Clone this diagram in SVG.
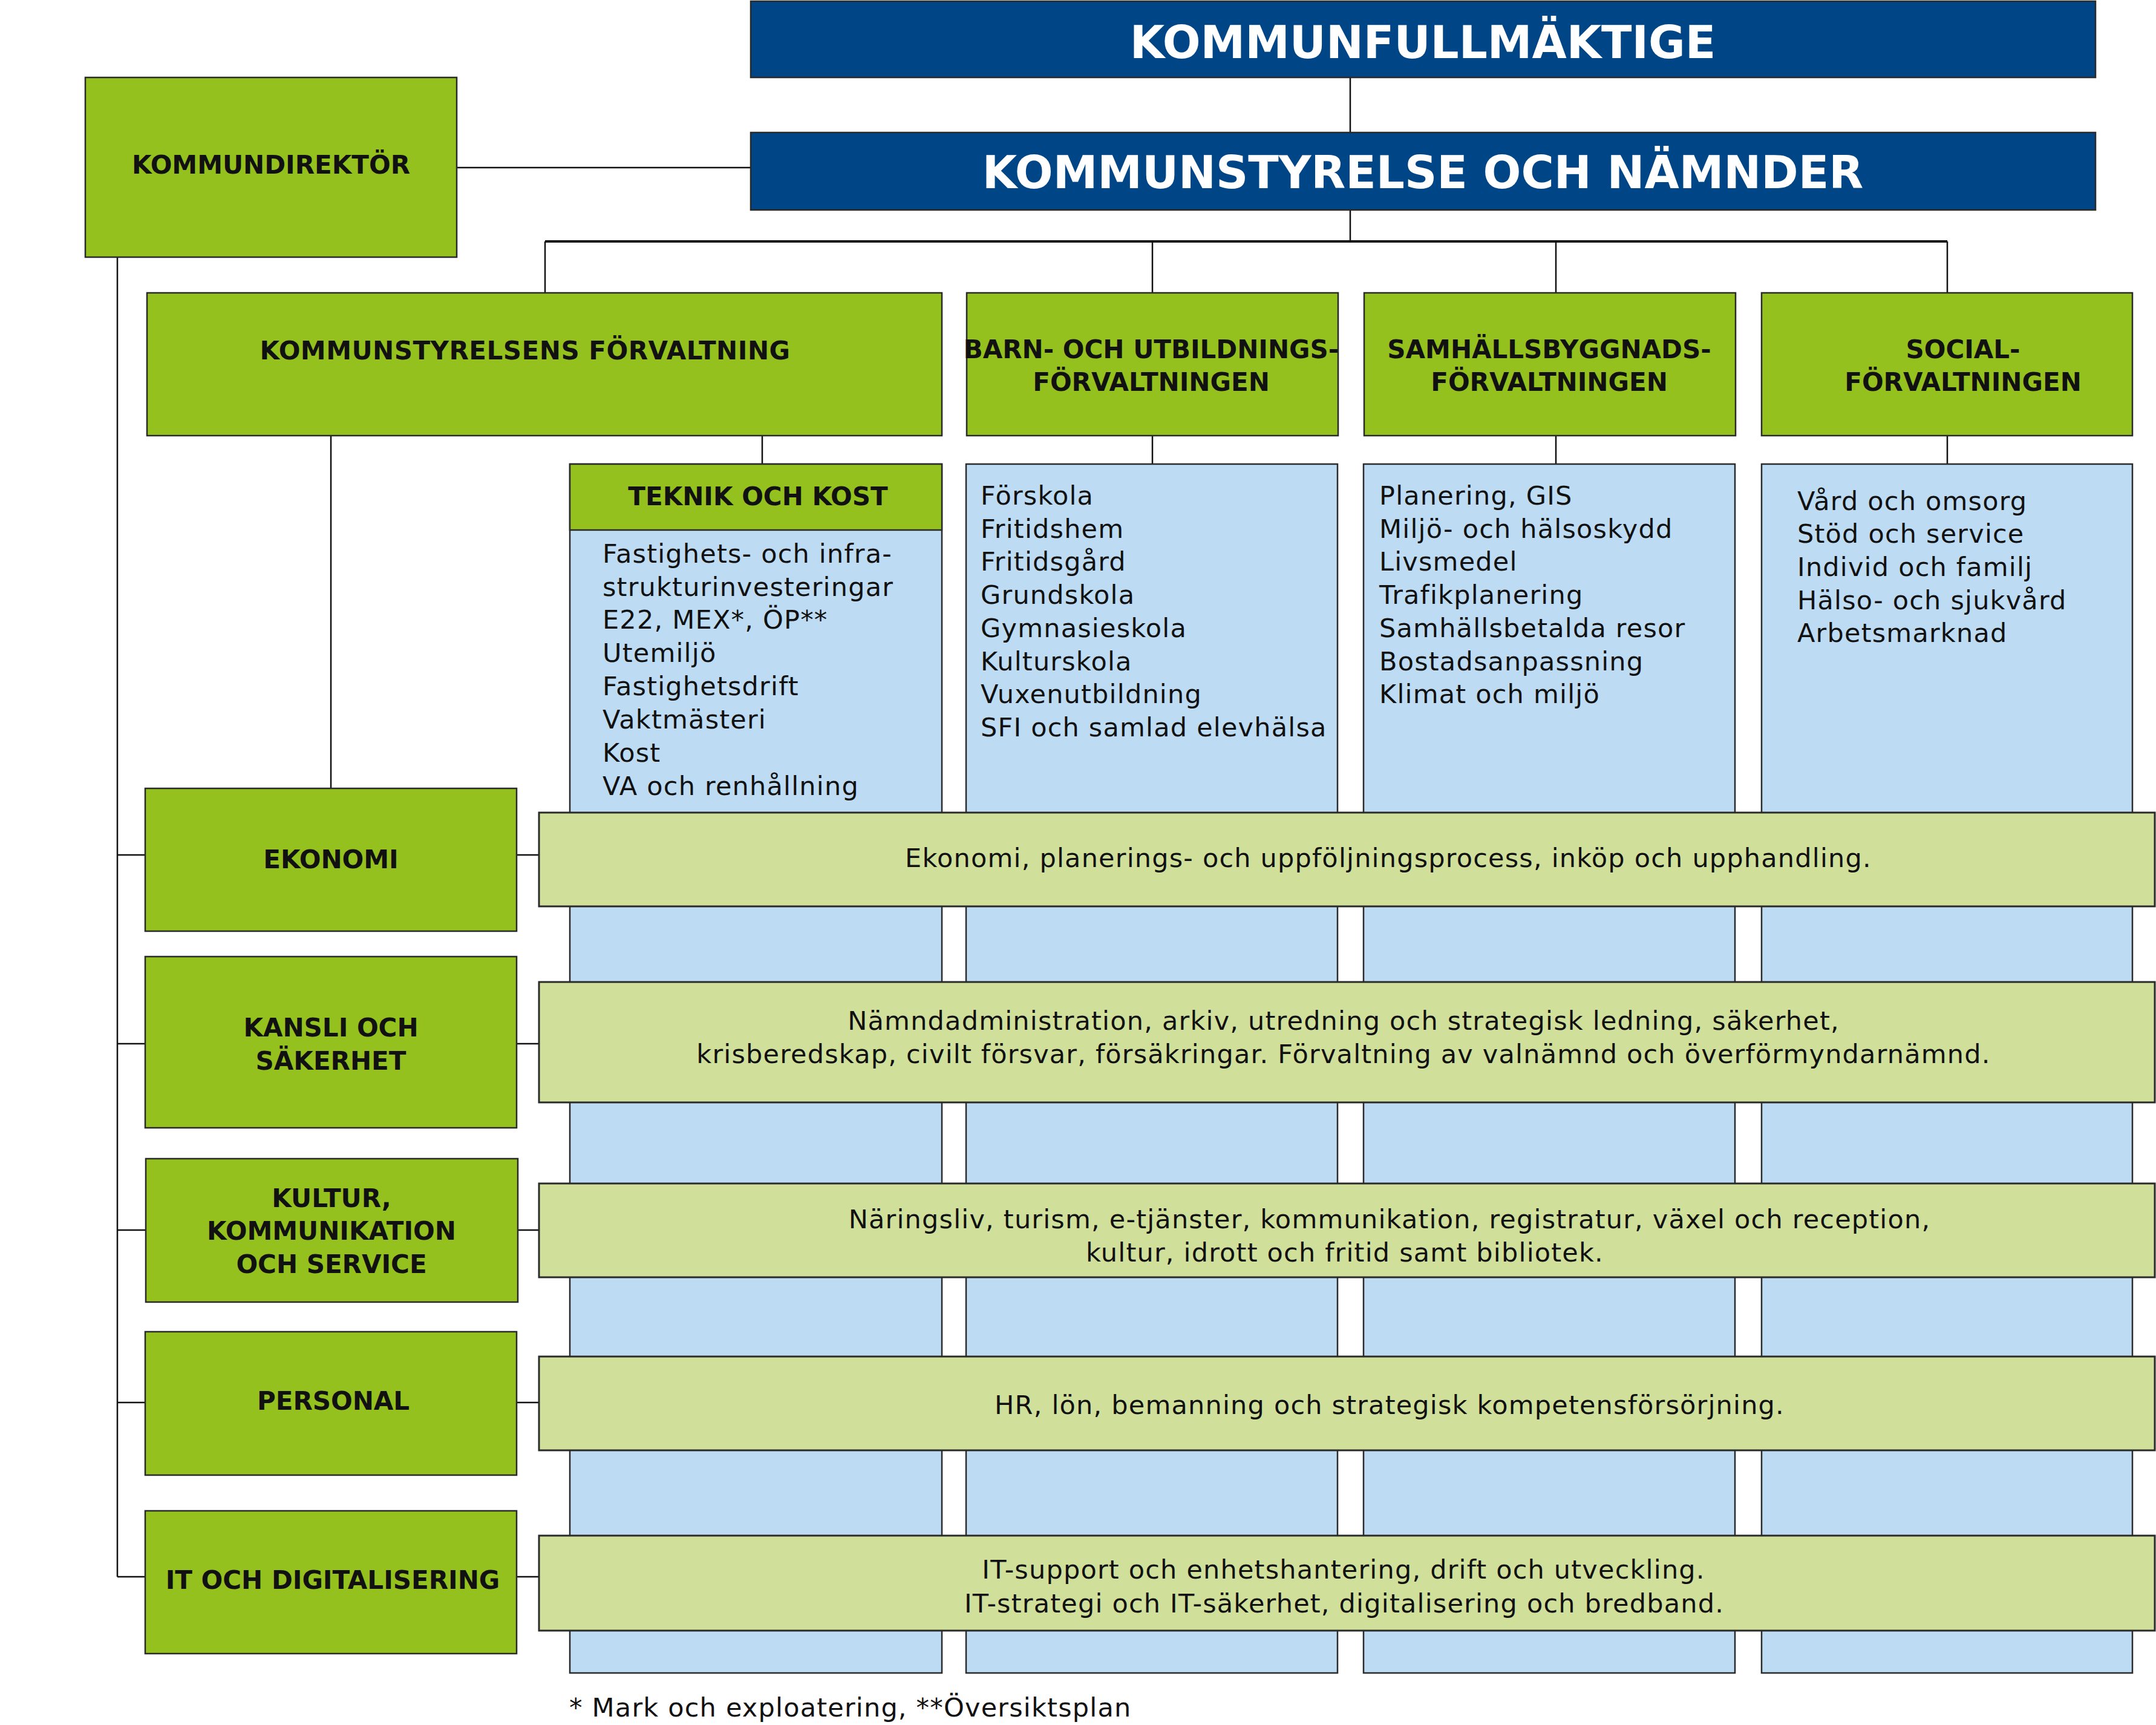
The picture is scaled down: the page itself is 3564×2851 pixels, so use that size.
<svg xmlns="http://www.w3.org/2000/svg" width="3564" height="2851" viewBox="0 0 3564 2851">
<style>
.bg{fill:#ffffff}
.navy{fill:#004687;stroke:#2a2a2a;stroke-width:2.5}
.green{fill:#95C11F;stroke:#2a2a2a;stroke-width:2.5}
.blue{fill:#BDDCF4;stroke:#2a2a2a;stroke-width:2.5}
.bar{fill:#D0E09B;stroke:#2a2a2a;stroke-width:3}
.ln{stroke:#111;stroke-width:2.5;fill:none}
.bus{stroke:#111;stroke-width:4;fill:none}
.h1{font-family:"DejaVu Sans",sans-serif;font-weight:bold;font-size:74px;fill:#ffffff;text-anchor:middle}
.hb{font-family:"DejaVu Sans",sans-serif;font-weight:bold;font-size:42px;fill:#111;text-anchor:middle}
.tx{font-family:"DejaVu Sans",sans-serif;font-size:43px;letter-spacing:1.2px;fill:#111}
.tc{font-family:"DejaVu Sans",sans-serif;font-size:43px;letter-spacing:1.2px;fill:#111;text-anchor:middle}
</style>
<rect class="bg" x="0" y="0" width="3564" height="2851"/>

<g id="connectors">
  <line class="ln" x1="2232" y1="128" x2="2232" y2="219"/>
  <line class="ln" x1="2232" y1="347" x2="2232" y2="399"/>
  <line class="bus" x1="901" y1="399" x2="3219" y2="399"/>
  <line class="ln" x1="901" y1="399" x2="901" y2="484"/>
  <line class="ln" x1="1905" y1="399" x2="1905" y2="484"/>
  <line class="ln" x1="2572" y1="399" x2="2572" y2="484"/>
  <line class="ln" x1="3219" y1="399" x2="3219" y2="484"/>
  <line class="ln" x1="755" y1="277" x2="1241" y2="277"/>
  <line class="ln" x1="194" y1="425" x2="194" y2="2606"/>
  <line class="ln" x1="194" y1="1413" x2="240" y2="1413"/>
  <line class="ln" x1="194" y1="1725" x2="240" y2="1725"/>
  <line class="ln" x1="194" y1="2033" x2="241" y2="2033"/>
  <line class="ln" x1="194" y1="2318" x2="240" y2="2318"/>
  <line class="ln" x1="194" y1="2606" x2="240" y2="2606"/>
  <line class="ln" x1="854" y1="1413" x2="891" y2="1413"/>
  <line class="ln" x1="854" y1="1725" x2="891" y2="1725"/>
  <line class="ln" x1="856" y1="2033" x2="891" y2="2033"/>
  <line class="ln" x1="854" y1="2318" x2="891" y2="2318"/>
  <line class="ln" x1="854" y1="2606" x2="891" y2="2606"/>
  <line class="ln" x1="547" y1="720" x2="547" y2="1303"/>
  <line class="ln" x1="1260" y1="720" x2="1260" y2="767"/>
  <line class="ln" x1="1905" y1="720" x2="1905" y2="767"/>
  <line class="ln" x1="2572" y1="720" x2="2572" y2="767"/>
  <line class="ln" x1="3219" y1="720" x2="3219" y2="767"/>
</g>

<g id="kommunfullmaktige">
  <rect class="navy" x="1241" y="2" width="2223" height="126"/>
  <text class="h1" x="2352" y="96">KOMMUNFULLMÄKTIGE</text>
</g>
<g id="kommunstyrelse">
  <rect class="navy" x="1241" y="219" width="2223" height="128"/>
  <text class="h1" x="2352" y="311">KOMMUNSTYRELSE OCH NÄMNDER</text>
</g>
<g id="kommundirektor">
  <rect class="green" x="141" y="128" width="614" height="297"/>
  <text class="hb" x="448" y="287">KOMMUNDIREKTÖR</text>
</g>

<g id="ksf">
  <rect class="green" x="243" y="484" width="1314" height="236"/>
  <text class="hb" x="868" y="594" letter-spacing="0.5">KOMMUNSTYRELSENS FÖRVALTNING</text>
</g>
<g id="buf">
  <rect class="green" x="1598" y="484" width="614" height="236"/>
  <text class="hb" x="1903" y="592">BARN- OCH UTBILDNINGS-</text>
  <text class="hb" x="1903" y="646">FÖRVALTNINGEN</text>
</g>
<g id="sbf">
  <rect class="green" x="2255" y="484" width="614" height="236"/>
  <text class="hb" x="2561" y="592">SAMHÄLLSBYGGNADS-</text>
  <text class="hb" x="2561" y="646">FÖRVALTNINGEN</text>
</g>
<g id="sf">
  <rect class="green" x="2912" y="484" width="613" height="236"/>
  <text class="hb" x="3245" y="592">SOCIAL-</text>
  <text class="hb" x="3245" y="646">FÖRVALTNINGEN</text>
</g>

<g id="teknik">
  <rect class="blue" x="942" y="767" width="615" height="1998"/>
  <rect class="green" x="942" y="767" width="615" height="109"/>
  <text class="hb" x="1253" y="835">TEKNIK OCH KOST</text>
  <text class="tx" x="996" y="930">Fastighets- och infra-</text>
  <text class="tx" x="996" y="985">strukturinvesteringar</text>
  <text class="tx" x="996" y="1039">E22, MEX*, ÖP**</text>
  <text class="tx" x="996" y="1094">Utemiljö</text>
  <text class="tx" x="996" y="1149">Fastighetsdrift</text>
  <text class="tx" x="996" y="1204">Vaktmästeri</text>
  <text class="tx" x="996" y="1259">Kost</text>
  <text class="tx" x="996" y="1314">VA och renhållning</text>
</g>
<g id="buf-list">
  <rect class="blue" x="1597" y="767" width="614" height="1998"/>
  <text class="tx" x="1621" y="834">Förskola</text>
  <text class="tx" x="1621" y="889">Fritidshem</text>
  <text class="tx" x="1621" y="943">Fritidsgård</text>
  <text class="tx" x="1621" y="998">Grundskola</text>
  <text class="tx" x="1621" y="1053">Gymnasieskola</text>
  <text class="tx" x="1621" y="1108">Kulturskola</text>
  <text class="tx" x="1621" y="1162">Vuxenutbildning</text>
  <text class="tx" x="1621" y="1217">SFI och samlad elevhälsa</text>
</g>
<g id="sbf-list">
  <rect class="blue" x="2254" y="767" width="614" height="1998"/>
  <text class="tx" x="2280" y="834">Planering, GIS</text>
  <text class="tx" x="2280" y="889">Miljö- och hälsoskydd</text>
  <text class="tx" x="2280" y="943">Livsmedel</text>
  <text class="tx" x="2280" y="998">Trafikplanering</text>
  <text class="tx" x="2280" y="1053">Samhällsbetalda resor</text>
  <text class="tx" x="2280" y="1108">Bostadsanpassning</text>
  <text class="tx" x="2280" y="1162">Klimat och miljö</text>
</g>
<g id="sf-list">
  <rect class="blue" x="2912" y="767" width="613" height="1998"/>
  <text class="tx" x="2971" y="843">Vård och omsorg</text>
  <text class="tx" x="2971" y="897">Stöd och service</text>
  <text class="tx" x="2971" y="952">Individ och familj</text>
  <text class="tx" x="2971" y="1007">Hälso- och sjukvård</text>
  <text class="tx" x="2971" y="1061">Arbetsmarknad</text>
</g>

<g id="ekonomi">
  <rect class="green" x="240" y="1303" width="614" height="236"/>
  <text class="hb" x="547" y="1435">EKONOMI</text>
</g>
<g id="ekonomi-bar">
  <rect class="bar" x="891" y="1343" width="2671" height="155"/>
  <text class="tc" x="2295" y="1433">Ekonomi, planerings- och uppföljningsprocess, inköp och upphandling.</text>
</g>
<g id="kansli">
  <rect class="green" x="240" y="1581" width="614" height="283"/>
  <text class="hb" x="547" y="1713">KANSLI OCH</text>
  <text class="hb" x="547" y="1768">SÄKERHET</text>
</g>
<g id="kansli-bar">
  <rect class="bar" x="891" y="1623" width="2671" height="199"/>
  <text class="tc" x="2221" y="1702">Nämndadministration, arkiv, utredning och strategisk ledning, säkerhet,</text>
  <text class="tc" x="2221" y="1757">krisberedskap, civilt försvar, försäkringar. Förvaltning av valnämnd och överförmyndarnämnd.</text>
</g>
<g id="kultur">
  <rect class="green" x="241" y="1915" width="615" height="237"/>
  <text class="hb" x="548" y="1995">KULTUR,</text>
  <text class="hb" x="548" y="2049">KOMMUNIKATION</text>
  <text class="hb" x="548" y="2104">OCH SERVICE</text>
</g>
<g id="kultur-bar">
  <rect class="bar" x="891" y="1956" width="2671" height="155"/>
  <text class="tc" x="2297" y="2030">Näringsliv, turism, e-tjänster, kommunikation, registratur, växel och reception,</text>
  <text class="tc" x="2223" y="2085">kultur, idrott och fritid samt bibliotek.</text>
</g>
<g id="personal">
  <rect class="green" x="240" y="2201" width="614" height="237"/>
  <text class="hb" x="551" y="2330">PERSONAL</text>
</g>
<g id="personal-bar">
  <rect class="bar" x="891" y="2242" width="2671" height="155"/>
  <text class="tc" x="2297" y="2337">HR, lön, bemanning och strategisk kompetensförsörjning.</text>
</g>
<g id="it">
  <rect class="green" x="240" y="2497" width="614" height="236"/>
  <text class="hb" x="550" y="2626">IT OCH DIGITALISERING</text>
</g>
<g id="it-bar">
  <rect class="bar" x="891" y="2538" width="2671" height="157"/>
  <text class="tc" x="2221" y="2609">IT-support och enhetshantering, drift och utveckling.</text>
  <text class="tc" x="2222" y="2665">IT-strategi och IT-säkerhet, digitalisering och bredband.</text>
</g>

<text class="tx" x="941" y="2837">* Mark och exploatering, **Översiktsplan</text>
</svg>
